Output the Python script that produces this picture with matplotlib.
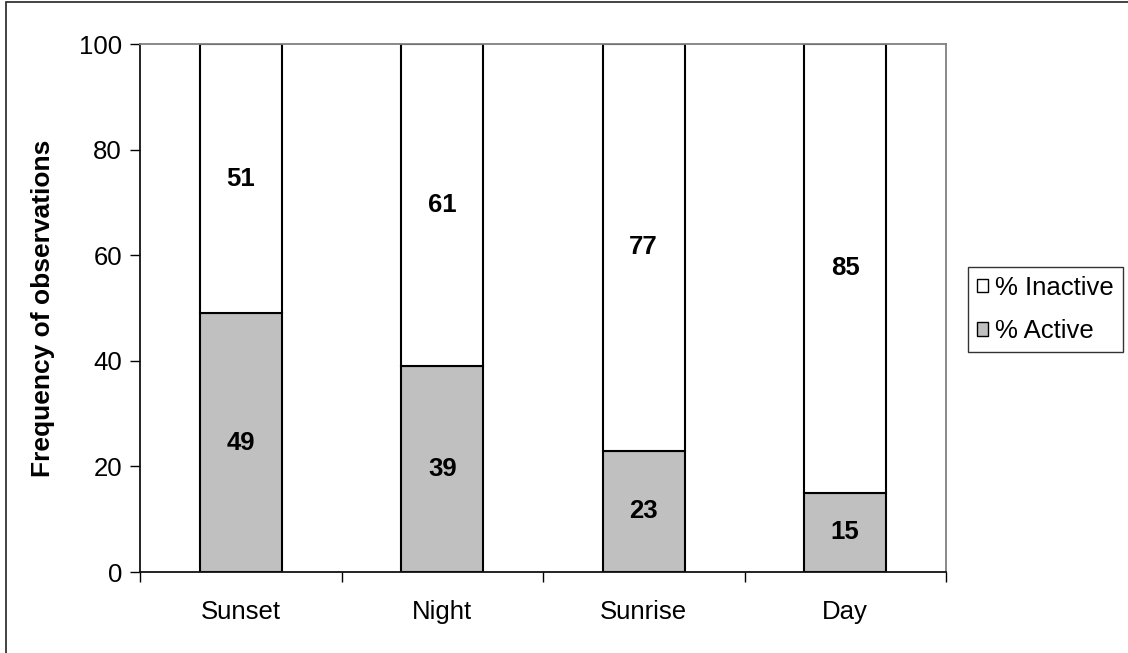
import matplotlib.pyplot as plt
from matplotlib.patches import Rectangle, Patch

plt.rcParams['font.family'] = ['Liberation Sans', 'DejaVu Sans']

periods = ["Sunset", "Night", "Sunrise", "Day"]
active = [49, 39, 23, 15]
inactive = [51, 61, 77, 85]
y_ticks = [0, 20, 40, 60, 80, 100]

FS = 18.5

fig = plt.figure(figsize=(11.28, 6.53), dpi=100)

# outer chart frame
fig.patches.append(Rectangle((5.5 / 1128, -0.05), 1.2, 1.05 - 2 / 653,
                             transform=fig.transFigure, fill=False,
                             edgecolor='#222222', linewidth=1.2))

ax = fig.add_axes([140 / 1128, 81 / 653, 806 / 1128, 528 / 653])
x = list(range(len(periods)))
w = 0.407
ax.bar(x, active, width=w, color='#c0c0c0', edgecolor='black', linewidth=1.5)
ax.bar(x, inactive, width=w, bottom=active, color='white', edgecolor='black', linewidth=1.5)

for xi, a, b in zip(x, active, inactive):
    ax.text(xi, a / 2, str(a), ha='center', va='center', fontsize=FS, fontweight='bold')
    ax.text(xi, a + b / 2, str(b), ha='center', va='center', fontsize=FS, fontweight='bold')

ax.set_xlim(-0.5, len(periods) - 0.5)
ax.set_ylim(0, 100)
ax.set_yticks(y_ticks)
ax.tick_params(axis='y', labelsize=FS, length=7, width=1, direction='out', pad=6)
ax.set_xticks([i - 0.5 for i in range(len(periods) + 1)])
ax.set_xticklabels([])
ax.tick_params(axis='x', length=7, width=1, direction='out')
ax.set_xticks(x, minor=True)
ax.set_xticklabels(periods, minor=True, fontsize=FS)
ax.tick_params(axis='x', which='minor', length=0, pad=20)

ax.set_ylabel("Frequency of observations", fontsize=19, fontweight='bold', labelpad=17)

for s in ['left', 'bottom']:
    ax.spines[s].set_color('#111111')
    ax.spines[s].set_linewidth(1.3)
for s in ['top', 'right']:
    ax.spines[s].set_color('#808080')
    ax.spines[s].set_linewidth(1.3)

handles = [Patch(facecolor='white', edgecolor='black', label='% Inactive'),
           Patch(facecolor='#c0c0c0', edgecolor='black', label='% Active')]
leg = fig.legend(handles=handles, loc='upper left',
                 bbox_to_anchor=(968 / 1128, 1 - 267 / 653),
                 fontsize=FS, frameon=True, fancybox=False,
                 edgecolor='black', handlelength=0.42, handleheight=0.42,
                 handletextpad=0.3, borderpad=0.35, borderaxespad=0,
                 labelspacing=0.75)
leg.get_frame().set_linewidth(1.0)

fig.savefig("out.png", dpi=100)
